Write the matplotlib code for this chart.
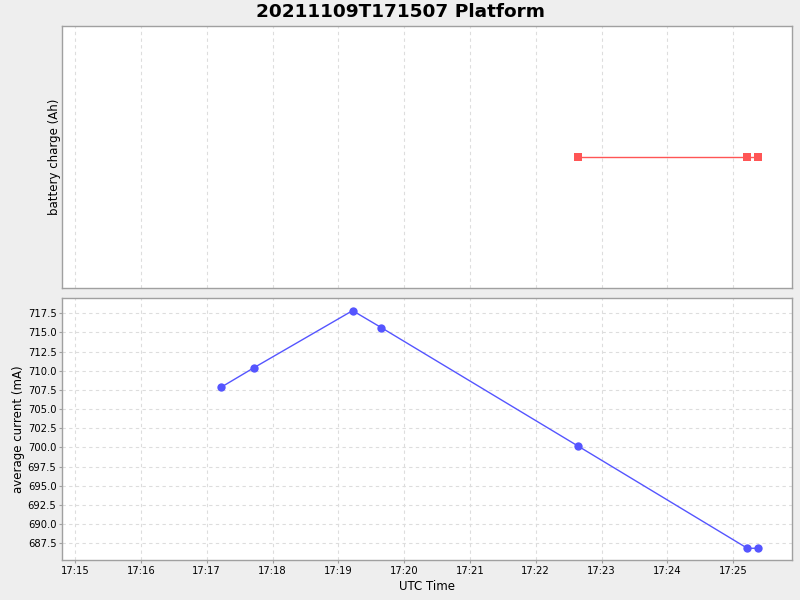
import matplotlib
matplotlib.use("Agg")
import matplotlib.pyplot as plt
import matplotlib.dates as mdates
import numpy as np
import pandas as pd

title = "20211109T171507 Platform"
times = ["2021-11-09 17:17:13", "2021-11-09 17:17:43", "2021-11-09 17:19:13",
         "2021-11-09 17:19:39", "2021-11-09 17:22:39", "2021-11-09 17:25:13",
         "2021-11-09 17:25:23"]
current_ma = [707.85, 710.4, 717.85, 715.65, 700.15, 686.85, 686.85]
charge_times = ["2021-11-09 17:22:39", "2021-11-09 17:25:13", "2021-11-09 17:25:23"]
charge_ah = [0.0, 0.0, 0.0]
x_start, x_end = "2021-11-09 17:14:48", "2021-11-09 17:25:54"
tick_times = pd.date_range("2021-11-09 17:15", "2021-11-09 17:25", freq="1min")
y_ticks = np.arange(687.5, 718, 2.5)

t = pd.to_datetime(times)
tc = pd.to_datetime(charge_times)

fig = plt.figure(figsize=(8, 6), dpi=100, facecolor="#EEEEEE")
ax1 = fig.add_axes([62 / 800, 1 - 288.3 / 600, 730.3 / 800, 262 / 600])
ax2 = fig.add_axes([62 / 800, 1 - 560 / 600, 730.3 / 800, 261.7 / 600])

for ax in (ax1, ax2):
    ax.set_facecolor("white")
    for s in ax.spines.values():
        s.set_color("#A0A0A0")
        s.set_linewidth(1.0)
    ax.set_xlim(pd.Timestamp(x_start), pd.Timestamp(x_end))
    ax.set_xticks(tick_times)
    ax.xaxis.set_major_formatter(mdates.DateFormatter("%H:%M"))
    ax.grid(True, axis="x", color="#DDDDDD", linestyle=(0, (3, 3)), linewidth=0.8)
    ax.set_axisbelow(True)

# top plot
ax1.plot(tc, charge_ah, color="#FF5555", linewidth=1.0, marker="s",
         markersize=6, markeredgewidth=0)
ax1.set_ylim(-1, 1)
ax1.set_yticks([])
ax1.tick_params(axis="x", length=0, labelbottom=False)
ax1.set_ylabel("battery charge (Ah)", fontsize=8.5, labelpad=1)

# bottom plot
ax2.plot(t, current_ma, color="#5555FF", linewidth=1.0, marker="o",
         markersize=6, markeredgewidth=0)
ax2.set_ylim(685.32, 719.46)
ax2.set_yticks(y_ticks)
ax2.yaxis.set_major_formatter(matplotlib.ticker.FormatStrFormatter("%.1f"))
ax2.grid(True, axis="y", color="#DDDDDD", linestyle=(0, (3, 3)), linewidth=0.8)
ax2.tick_params(axis="both", labelsize=7.2, length=2, color="#A0A0A0", pad=2)
ax2.set_ylabel("average current (mA)", fontsize=8.5, labelpad=2)
ax2.set_xlabel("UTC Time", fontsize=8.5, labelpad=3)

fig.suptitle(title, x=0.5, y=1 - 12 / 600, va="center", fontsize=13.3,
             fontweight="bold")

fig.savefig("out.png", dpi=100, facecolor=fig.get_facecolor())
